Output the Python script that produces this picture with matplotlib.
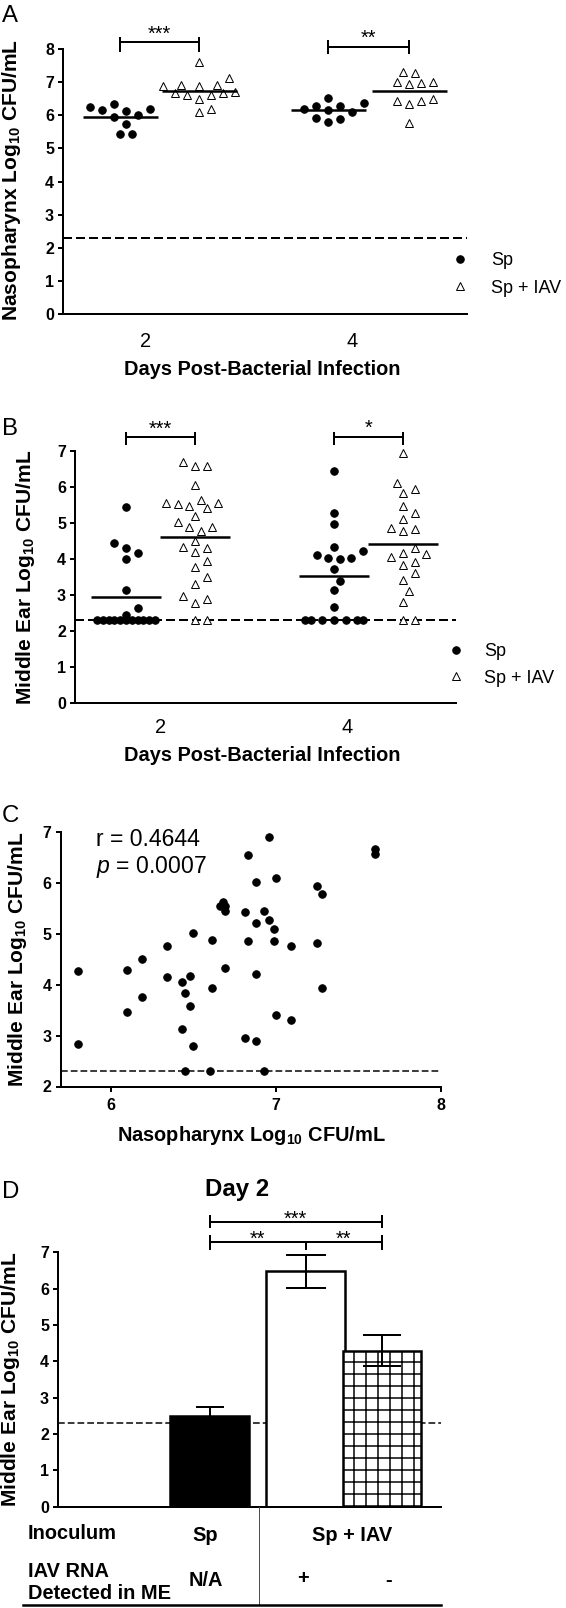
import numpy as np
import matplotlib
matplotlib.use("Agg")
import matplotlib.pyplot as plt
from matplotlib.lines import Line2D

plt.rcParams.update({
    "font.family": ["Liberation Sans", "DejaVu Sans"],
    "mathtext.fontset": "custom",
    "mathtext.rm": "Liberation Sans",
    "mathtext.it": "Liberation Sans:italic",
    "mathtext.bf": "Liberation Sans:bold",
    "mathtext.default": "regular",
    "hatch.linewidth": 1.5,
    "axes.linewidth": 2,
})

# ---- data (log10 CFU/mL) ----
LOD = 2.3

a_sp_d2 = [6.16, 6.25, 6.34, 6.12, 6.20, 6.00, 5.95, 5.73, 5.42, 5.42]
a_iav_d2 = [7.61, 7.11, 6.92, 6.87, 6.92, 6.87, 6.69, 6.66, 6.62, 6.62, 6.68, 6.48, 6.19, 6.11]
a_sp_d4 = [6.52, 6.37, 6.29, 6.29, 6.19, 6.16, 6.11, 5.93, 5.90, 5.80]
a_iav_d4 = [7.31, 7.27, 7.01, 7.01, 6.96, 6.94, 6.49, 6.44, 6.44, 6.34, 5.78]

b_sp_d2 = [5.44, 4.43, 4.31, 4.15, 3.98, 3.12, 2.62, 2.45,
           2.30, 2.30, 2.30, 2.30, 2.30, 2.30, 2.30, 2.30, 2.30, 2.30, 2.30]
b_iav_d2 = [6.68, 6.57, 6.57, 6.05, 5.63, 5.56, 5.54, 5.52, 5.46, 5.42, 5.19, 5.01, 4.89, 4.87,
            4.78, 4.50, 4.32, 4.31, 4.19, 3.94, 3.76, 3.48, 3.30, 2.96, 2.87, 2.78, 2.30, 2.30]
b_sp_d4 = [6.44, 5.28, 4.96, 4.33, 4.21, 4.10, 4.03, 4.01, 3.98, 3.71, 3.39, 3.12, 2.67,
           2.30, 2.30, 2.30, 2.30, 2.30, 2.30, 2.30]
b_iav_d4 = [6.93, 6.11, 5.94, 5.82, 5.47, 5.28, 5.10, 4.86, 4.82, 4.78, 4.29, 4.17, 4.13,
            4.04, 3.92, 3.83, 3.59, 3.41, 3.11, 2.81, 2.30, 2.30]

c_np = [5.80, 5.80, 6.10, 6.10, 6.19, 6.19, 6.34, 6.34, 6.43, 6.45, 6.48, 6.48, 6.43, 6.50,
        6.50, 6.61, 6.61, 6.66, 6.68, 6.69, 6.69, 6.69, 6.81, 6.83, 6.83, 6.81, 6.88, 6.88,
        6.88, 6.88, 6.96, 6.93, 6.96, 6.99, 6.99, 7.00, 7.00, 7.09, 7.09, 7.25, 7.28, 7.25,
        7.28, 7.60, 7.60, 6.45, 6.60, 6.93]
c_me = [4.28, 2.83, 4.30, 3.47, 4.51, 3.76, 4.77, 4.15, 4.06, 3.84, 4.17, 3.59, 3.13, 5.01,
        2.79, 4.88, 3.94, 5.55, 5.63, 5.55, 5.46, 4.33, 5.43, 6.55, 4.87, 2.95, 6.03, 5.21,
        4.21, 2.89, 6.91, 5.46, 5.27, 5.09, 4.87, 6.11, 3.40, 4.77, 3.30, 5.94, 5.79, 4.82,
        3.93, 6.67, 6.57, 2.30, 2.30, 2.30]
c_r = "r = 0.4644"
c_p = r"$\mathit{p}$ = 0.0007"

d_means = [2.50, 6.47, 4.29]
d_sems = [0.24, 0.46, 0.42]
d_inoculum = ["Sp", "Sp + IAV"]
d_rna = ["N/A", "+", "-"]

day_labels = ["2", "4"]
legend_labels = ["Sp", "Sp + IAV"]

# ---- layout (figure pixels) ----
W, H, DPI = 566, 1608, 72
fig = plt.figure(figsize=(W / DPI, H / DPI), dpi=DPI)


def box(x0, x1, ytop, ybot):
    return fig.add_axes([x0 / W, 1 - ybot / H, (x1 - x0) / W, (ybot - ytop) / H])


def ftext(x, y, s, **kw):
    return fig.text(x / W, 1 - y / H, s, **kw)


def style(ax, yticks):
    for s in ["top", "right"]:
        ax.spines[s].set_visible(False)
    ax.set_yticks(yticks)
    ax.tick_params(axis="y", direction="out", length=5, width=2, pad=4, labelsize=16)
    for t in ax.get_yticklabels():
        t.set_fontweight("bold")


def swarm(vals, ppu, step, diam, maxw):
    vals = np.asarray(vals, float)
    cands = [0.0]
    for k in range(1, int(maxw // step) + 1):
        cands += [k * step, -k * step]
    offs = np.zeros(len(vals))
    done = []
    for i in np.argsort(vals, kind="stable"):
        y = vals[i] * ppu
        best, bestd = 0.0, -1
        for c in cands:
            dmin = min((np.hypot(c - px, y - py) for px, py in done), default=np.inf)
            if dmin >= diam:
                best = c
                break
            if dmin > bestd:
                bestd, best = dmin, c
        offs[i] = best
        done.append((best, y))
    return offs


def dots(ax, vals, center, kind, ppu, step, diam, maxw, half):
    offs = swarm(vals, ppu, step, diam, maxw)
    if kind == "sp":
        ax.plot(center + offs, vals, "o", ms=7.5, color="k", clip_on=False, zorder=3)
    else:
        ax.plot(center + offs, vals, "^", ms=8, mfc="white", mec="k", mew=1,
                clip_on=False, zorder=3)
    ax.hlines(np.mean(vals), center - half, center + half, color="k", lw=2.5, zorder=4)


def bracket(ax, x0, x1, y, ytop, ybot, stars, ystar, mid=None):
    kw = dict(color="k", lw=2, clip_on=False, solid_capstyle="butt")
    ax.plot([x0, x1], [y, y], **kw)
    ax.plot([x0, x0], [ybot, ytop], **kw)
    ax.plot([x1, x1], [ybot, ytop], **kw)
    if mid is not None:
        ax.plot([mid, mid], [ybot, y], **kw)
    if stars:
        ax.annotate(stars, ((x0 + x1) / 2, ystar), xytext=(0, -11.5),
                    textcoords="offset points", ha="center", va="baseline",
                    fontsize=20, annotation_clip=False)


def legend(ax, xm, yc, pad, spacing):
    h = [Line2D([], [], marker="o", ls="none", ms=7.5, color="k"),
         Line2D([], [], marker="^", ls="none", ms=8, mfc="white", mec="k", mew=1)]
    ax.legend(h, legend_labels, loc="center left", frameon=False, fontsize=18,
              bbox_to_anchor=((xm - 9) / W, 1 - yc / H), bbox_transform=fig.transFigure,
              handlelength=1.0, handletextpad=pad, borderpad=0, borderaxespad=0,
              labelspacing=spacing)


dash = (0, (4.5, 2))
ylab = r"Log$_{10}$ CFU/mL"

# ---- A ----
axA = box(63, 467, 49, 314)
axA.set_xlim(63, 467)
axA.set_ylim(0, 8)
axA.set_xticks([])
style(axA, range(9))
axA.axhline(LOD, color="k", ls=dash, lw=2, zorder=1)
ppuA = 265 / 8
posA = [120, 199, 328, 409]
for vals, c, kind in zip([a_sp_d2, a_iav_d2, a_sp_d4, a_iav_d4], posA,
                         ["sp", "iav", "sp", "iav"]):
    dots(axA, vals, c, kind, ppuA, 6, 11, 40, 37.5)
bracket(axA, posA[0], posA[1], 8.20, 8.37, 7.92, "***", 8.63)
bracket(axA, posA[2], posA[3], 8.07, 8.27, 7.84, "**", 8.50)
legend(axA, 460, 274.5, 1.22, 0.57)
for x, s in zip([146, 352], day_labels):
    ftext(x, 346.7, s, ha="center", va="baseline", fontsize=20)
ftext(262, 375, "Days Post-Bacterial Infection", ha="center", va="baseline",
      fontsize=20, fontweight="bold")
ftext(12, 180, "Nasopharynx " + ylab, rotation=90, ha="center", va="center",
      fontsize=21, fontweight="bold")
ftext(2, 21.7, "A", ha="left", va="baseline", fontsize=24)

# ---- B ----
axB = box(75, 456, 450.7, 702.7)
axB.set_xlim(75, 456)
axB.set_ylim(0, 7)
axB.set_xticks([])
style(axB, range(8))
axB.axhline(LOD, color="k", ls=dash, lw=2, zorder=1)
ppuB = 252 / 7
posB = [126, 195, 334, 403]
for vals, c, kind in zip([b_sp_d2, b_iav_d2, b_sp_d4, b_iav_d4], posB,
                         ["sp", "iav", "sp", "iav"]):
    dots(axB, vals, c, kind, ppuB, 5.8, 11, 34, 35)
bracket(axB, posB[0], posB[1], 7.37, 7.53, 7.16, "***", 7.76)
bracket(axB, posB[2], posB[3], 7.37, 7.53, 7.16, "*", 7.78)
legend(axB, 455.6, 665, 1.08, 0.52)
for x, s in zip([161, 347], day_labels):
    ftext(x, 732.7, s, ha="center", va="baseline", fontsize=20)
ftext(262, 761, "Days Post-Bacterial Infection", ha="center", va="baseline",
      fontsize=20, fontweight="bold")
ftext(26, 577, "Middle Ear " + ylab, rotation=90, ha="center", va="center",
      fontsize=21, fontweight="bold")
ftext(2, 435, "B", ha="left", va="baseline", fontsize=24)

# ---- C ----
axC = box(60.6, 441, 832.3, 1086.5)
axC.set_xlim(5.695, 8.0)
axC.set_ylim(2, 7)
style(axC, range(2, 8))
axC.set_xticks([6, 7, 8])
axC.tick_params(axis="x", direction="out", length=5, width=2, pad=6, labelsize=16)
for t in axC.get_xticklabels():
    t.set_fontweight("bold")
axC.axhline(LOD, color="k", ls=dash, lw=1.5, zorder=1)
axC.plot(c_np, c_me, "o", ms=7.5, color="k", clip_on=False, zorder=3)
ftext(96, 846, c_r, ha="left", va="baseline", fontsize=23)
ftext(96, 873, c_p, ha="left", va="baseline", fontsize=23)
ftext(251, 1141, "Nasopharynx " + ylab, ha="center", va="baseline",
      fontsize=20, fontweight="bold")
ftext(18, 959, "Middle Ear " + ylab, rotation=90, ha="center", va="center",
      fontsize=21, fontweight="bold")
ftext(2, 822, "C", ha="left", va="baseline", fontsize=24)

# ---- D ----
axD = box(58, 441, 1252.2, 1506.7)
axD.set_xlim(58, 441)
axD.set_ylim(0, 7)
axD.set_xticks([])
style(axD, range(8))
axD.axhline(LOD, color="k", ls=dash, lw=1.5, zorder=1)
posD = [209.5, 305.5, 382]
widths = [79, 79, 78]
fills = ["black", "white", "white"]
hatches = [None, None, "+"]
caps = [14, 20, 19]
for x, m, e, w, fc, hc, cp in zip(posD, d_means, d_sems, widths, fills, hatches, caps):
    axD.bar(x, m, width=w, color=fc, edgecolor="k", lw=2.5, hatch=hc, zorder=2)
    axD.errorbar(x, m, yerr=e, fmt="none", ecolor="k", elinewidth=2, capsize=cp,
                 capthick=2, zorder=3, clip_on=False)
bracket(axD, posD[0], posD[2], 7.29, 7.48, 7.05, None, None, mid=posD[1])
bracket(axD, posD[0], posD[2], 7.84, 8.01, 7.67, "***", 8.08)
for xa, xb in [(posD[0], posD[1]), (posD[1], posD[2])]:
    axD.annotate("**", ((xa + xb) / 2, 7.53), xytext=(0, -11.5), textcoords="offset points",
                 ha="center", va="baseline", fontsize=20, annotation_clip=False)
ftext(237, 1195.6, "Day 2", ha="center", va="baseline", fontsize=24, fontweight="bold")
ftext(11, 1379, "Middle Ear " + ylab, rotation=90, ha="center", va="center",
      fontsize=21, fontweight="bold")
ftext(2, 1198, "D", ha="left", va="baseline", fontsize=24)

# table under panel D
tb = dict(fontsize=20, fontweight="bold")
ftext(28, 1539.3, "Inoculum", ha="left", va="baseline", **tb)
ftext(205, 1540.7, d_inoculum[0], ha="center", va="baseline", **tb)
ftext(352, 1540.7, d_inoculum[1], ha="center", va="baseline", **tb)
ftext(28, 1576.7, "IAV RNA", ha="left", va="baseline", **tb)
ftext(28, 1599.3, "Detected in ME", ha="left", va="baseline", **tb)
ftext(206, 1586, d_rna[0], ha="center", va="baseline", **tb)
ftext(302.5, 1584, d_rna[1], ha="center", va="baseline", **tb)
ftext(389, 1586, d_rna[2], ha="center", va="baseline", **tb)
fig.add_artist(Line2D([259 / W, 259 / W], [1 - 1506.7 / H, 1 - 1605 / H], color="0.3",
                      lw=1, transform=fig.transFigure))
fig.add_artist(Line2D([23 / W, 441 / W], [1 - 1605 / H, 1 - 1605 / H], color="k",
                      lw=2.5, transform=fig.transFigure))

fig.savefig("out.png", dpi=DPI, facecolor="white")
